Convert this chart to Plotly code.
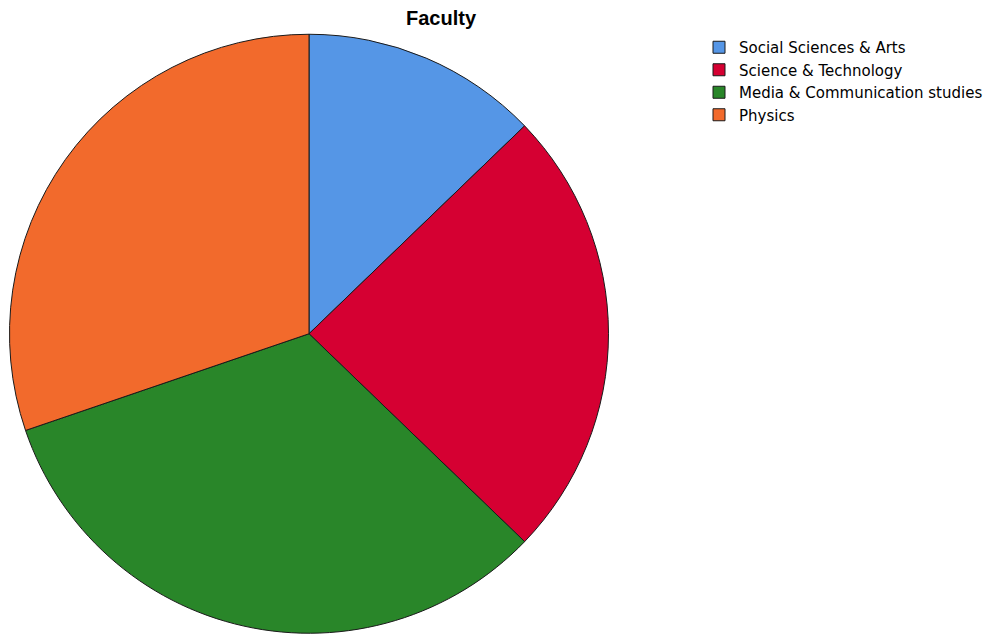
import plotly.graph_objects as go

# Faculty distribution (counts per faculty)
faculties = ["Social Sciences & Arts", "Science & Technology",
             "Media & Communication studies", "Physics"]
counts = [11, 21, 28, 26]
colors = ["#5596E6", "#D50032", "#298629", "#F26A2C"]

W, H = 989, 634

fig = go.Figure(
    go.Pie(
        labels=faculties,
        values=counts,
        sort=False,
        direction="clockwise",
        rotation=0,
        textinfo="none",
        hoverinfo="label+value+percent",
        marker=dict(colors=colors, line=dict(color="#1a1a1a", width=1)),
        domain=dict(x=[9.5 / W, 608.5 / W], y=[1 - 633.5 / H, 1 - 34 / H]),
    )
)

fig.update_layout(
    width=W,
    height=H,
    margin=dict(l=0, r=0, t=0, b=0),
    paper_bgcolor="white",
    plot_bgcolor="white",
    font=dict(family="Liberation Sans, Arial, sans-serif", size=14, color="#000000"),
    title=dict(
        text="<b>Faculty</b>",
        x=441 / W,
        xanchor="center",
        y=1 - 18 / H,
        yanchor="middle",
        yref="container",
        font=dict(family="Liberation Sans, Arial, sans-serif", size=20, color="#000000"),
    ),
    legend=dict(
        x=699 / W,
        xanchor="left",
        y=1 - 31 / H,
        yanchor="top",
        bgcolor="rgba(0,0,0,0)",
        font=dict(family="DejaVu Sans, sans-serif", size=15),
        traceorder="normal",
    ),
)

fig.write_html("out.html")
